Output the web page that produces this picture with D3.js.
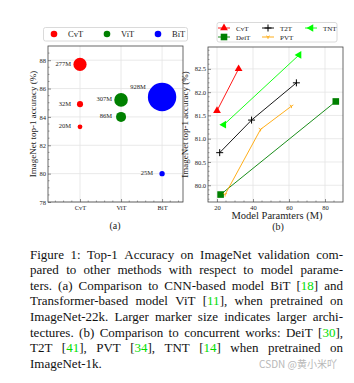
<!DOCTYPE html>
<html>
<head>
<meta charset="utf-8">
<script src="https://cdn.jsdelivr.net/npm/d3@7"></script>
<style>
  body { margin: 0; background: #fff; }
  svg { display: block; font-family: "Liberation Serif", "Times New Roman", serif; }
</style>
</head>
<body>
<svg class="fig"></svg>
<script>
const svgWidth = 354;
const svgHeight = 383;

// ---- data, panel (a) ----
var modelsA = ["CvT", "ViT", "BiT"];
var bubbleModel = ["CvT", "CvT", "CvT", "ViT", "ViT", "BiT", "BiT"];
var bubbleParams = [277, 32, 20, 307, 86, 928, 25];
var bubbleAcc = [87.7, 84.9, 83.3, 85.2, 84.0, 85.4, 80.0];
var yTicksA = [78, 80, 82, 84, 86, 88];

// ---- data, panel (b) ----
var seriesB = ["CvT", "DeiT", "T2T", "PVT", "TNT"];
var cvtParams = [20, 32],          cvtAcc = [81.6, 82.5];
var deitParams = [22, 86],         deitAcc = [79.8, 81.8];
var t2tParams = [21.5, 39.2, 64.1], t2tAcc = [80.7, 81.4, 82.2];
var pvtParams = [24.5, 44.2, 61.4], pvtAcc = [79.8, 81.2, 81.7];
var tntParams = [23.8, 65.6],      tntAcc = [81.3, 82.8];
var xTicksB = [20, 40, 60, 80];
var yTicksB = [80.0, 80.5, 81.0, 81.5, 82.0, 82.5];

// ---- caption ----
var captionLines = [
  "Figure 1: Top-1 Accuracy on ImageNet validation com-",
  "pared to other methods with respect to model parame-",
  "ters. (a) Comparison to CNN-based model BiT [18] and",
  "Transformer-based model ViT [11], when pretrained on",
  "ImageNet-22k. Larger marker size indicates larger archi-",
  "tectures. (b) Comparison to concurrent works: DeiT [30],",
  "T2T [41], PVT [34], TNT [14] when pretrained on",
  "ImageNet-1k."
];

const colA = { CvT: "#ff0000", ViT: "#008000", BiT: "#0000ff" };
const colB = { CvT: "#ff0000", DeiT: "#008000", T2T: "#000000", PVT: "#ffa500", TNT: "#00ff00" };
const gridColor = "#e3e3e3";
const frameColor = "#444";

const svg = d3.select('.fig')
  .attr("width", svgWidth)
  .attr("height", svgHeight);

// frame + grid helper
function drawFrame(g, x, y, xTicks, yTicks, xFmt, yFmt, xMinor, yMinor) {
  const [x0, x1] = x.range();
  const [y0, y1] = y.range();
  // grid
  g.selectAll(".gx").data(xTicks).join("line")
    .attr("x1", d => x(d)).attr("x2", d => x(d))
    .attr("y1", y0).attr("y2", y1)
    .attr("stroke", gridColor).attr("stroke-width", 0.8);
  g.selectAll(".gy").data(yTicks).join("line")
    .attr("class", "gy")
    .attr("y1", d => y(d)).attr("y2", d => y(d))
    .attr("x1", x0).attr("x2", x1)
    .attr("stroke", gridColor).attr("stroke-width", 0.8);
  // axes
  const ax = g.append("g").attr("transform", `translate(0,${y0})`)
    .call(d3.axisBottom(x).tickValues(xTicks).tickSize(-3).tickPadding(3).tickFormat(xFmt));
  const ay = g.append("g").attr("transform", `translate(${x0},0)`)
    .call(d3.axisLeft(y).tickValues(yTicks).tickSize(-3).tickPadding(2).tickFormat(yFmt));
  [ax, ay].forEach(a => {
    a.select(".domain").remove();
    a.selectAll("line").attr("stroke", frameColor).attr("stroke-width", 0.6);
    a.selectAll("text").attr("fill", "#222").style("font-family", "Liberation Serif").style("font-size", "6.5px");
  });
  // minor ticks
  g.selectAll(".mx").data(xMinor).join("line")
    .attr("x1", d => x(d)).attr("x2", d => x(d))
    .attr("y1", y0).attr("y2", y0 - 1.5)
    .attr("stroke", frameColor).attr("stroke-width", 0.5);
  g.selectAll(".my").data(yMinor).join("line")
    .attr("class", "my")
    .attr("y1", d => y(d)).attr("y2", d => y(d))
    .attr("x1", x0).attr("x2", x0 + 1.5)
    .attr("stroke", frameColor).attr("stroke-width", 0.5);
  g.append("rect")
    .attr("x", x0).attr("y", y1)
    .attr("width", x1 - x0).attr("height", y0 - y1)
    .attr("fill", "none").attr("stroke", frameColor).attr("stroke-width", 0.8);
}

// =============== panel (a) ===============
const xA = d3.scaleLinear().domain([-0.78, 2.51]).range([48, 183]);
const yA = d3.scaleLinear().domain([78, 89]).range([202, 46]);
const rA = d3.scaleSqrt().domain([20, 86, 307, 928]).range([2.4, 5, 6.8, 14.2]);

const gA = svg.append("g");
const idxA = d3.range(modelsA.length);
drawFrame(gA, xA, yA, idxA, yTicksA,
  i => modelsA[i], d3.format("d"),
  d3.range(-0.6, 2.5, 0.2).filter(v => Math.abs(v - Math.round(v)) > 0.01),
  d3.range(78.5, 89, 0.5).filter(v => v % 2 !== 0));

const bubbles = bubbleParams.map((p, i) => ({
  model: bubbleModel[i], params: p, acc: bubbleAcc[i]
}));
bubbles.sort((a, b) => b.params - a.params);

gA.selectAll(".bub").data(bubbles).join("circle")
  .attr("cx", d => xA(modelsA.indexOf(d.model)))
  .attr("cy", d => yA(d.acc))
  .attr("r", d => rA(d.params))
  .attr("fill", d => colA[d.model]);

// labels sit left of each bubble; the big one goes above-left
gA.selectAll(".blab").data(bubbles).join("text")
  .attr("x", d => {
    const cx = xA(modelsA.indexOf(d.model));
    const r = rA(d.params);
    return r > 10 ? cx - r - 2 : cx - 9;
  })
  .attr("y", d => {
    const r = rA(d.params);
    return yA(d.acc) + (r > 10 ? -r * 0.6 : 1.5);
  })
  .attr("text-anchor", "end")
  .attr("fill", "#222")
  .style("font-size", "6.5px")
  .text(d => d.params + "M");

gA.append("text")
  .attr("transform", `translate(36,${(46 + 202) / 2}) rotate(-90)`)
  .attr("text-anchor", "middle")
  .style("font-size", "9px")
  .attr("fill", "#222")
  .text("ImageNet top-1 accuracy (%)");

gA.append("text")
  .attr("x", 115).attr("y", 229)
  .attr("text-anchor", "middle")
  .style("font-size", "10px")
  .attr("fill", "#222")
  .text("(a)");

// legend (a)
const legA = gA.append("g");
legA.append("rect")
  .attr("x", 43.5).attr("y", 27.5).attr("width", 144).attr("height", 13.5)
  .attr("rx", 2).attr("fill", "#fff").attr("stroke", "#d0d0d0").attr("stroke-width", 0.8);
const legAx = [54, 107, 158];
modelsA.forEach((m, i) => {
  legA.append("circle").attr("cx", legAx[i]).attr("cy", 34).attr("r", 3.3).attr("fill", colA[m]);
  legA.append("text").attr("x", legAx[i] + 14).attr("y", 37)
    .style("font-size", "8.5px").attr("fill", "#222").text(m);
});

// =============== panel (b) ===============
const xB = d3.scaleLinear().domain([15, 90]).range([208, 343]);
const yB = d3.scaleLinear().domain([79.64, 82.97]).range([202, 47]);
const gB = svg.append("g");
drawFrame(gB, xB, yB, xTicksB, yTicksB, d3.format("d"), d3.format(".1f"),
  d3.range(20, 90, 5).filter(v => v % 20 !== 0),
  d3.range(79.7, 83.0, 0.1).filter(v => Math.abs(v * 2 - Math.round(v * 2)) > 0.01));

const dataB = {
  CvT: cvtParams.map((p, i) => [p, cvtAcc[i]]),
  DeiT: deitParams.map((p, i) => [p, deitAcc[i]]),
  T2T: t2tParams.map((p, i) => [p, t2tAcc[i]]),
  PVT: pvtParams.map((p, i) => [p, pvtAcc[i]]),
  TNT: tntParams.map((p, i) => [p, tntAcc[i]])
};

function marker(g, name, x, y) {
  const c = colB[name];
  if (name === "CvT") {
    g.append("path").attr("d", d3.symbol(d3.symbolTriangle, 26)())
      .attr("transform", `translate(${x},${y})`).attr("fill", c);
  } else if (name === "DeiT") {
    g.append("rect").attr("x", x - 3.3).attr("y", y - 3.3).attr("width", 6.6).attr("height", 6.6).attr("fill", c);
  } else if (name === "T2T") {
    g.append("path").attr("d", `M${x - 3.5},${y}H${x + 3.5}M${x},${y - 3.5}V${y + 3.5}`)
      .attr("stroke", c).attr("stroke-width", 1);
  } else if (name === "PVT") {
    g.append("path").attr("d", `M${x},${y}V${y + 2}M${x},${y}L${x - 1.8},${y - 1.2}M${x},${y}L${x + 1.8},${y - 1.2}`)
      .attr("stroke", c).attr("stroke-width", 0.8);
  } else if (name === "TNT") {
    g.append("path").attr("d", d3.symbol(d3.symbolTriangle, 26)())
      .attr("transform", `translate(${x},${y}) rotate(-90)`).attr("fill", c);
  }
}

const line = d3.line().x(d => xB(d[0])).y(d => yB(d[1]));
seriesB.forEach(s => {
  gB.append("path").datum(dataB[s])
    .attr("d", line).attr("fill", "none")
    .attr("stroke", colB[s]).attr("stroke-width", 0.9);
  dataB[s].forEach(d => marker(gB, s, xB(d[0]), yB(d[1])));
});

gB.append("text")
  .attr("transform", `translate(188,${(47 + 202) / 2}) rotate(-90)`)
  .attr("text-anchor", "middle")
  .style("font-size", "9px")
  .attr("fill", "#222")
  .text("ImageNet top-1 accuracy (%)");

gB.append("text")
  .attr("x", 277).attr("y", 219)
  .attr("text-anchor", "middle")
  .style("font-size", "10.5px")
  .attr("fill", "#222")
  .text("Model Paramters (M)");

gB.append("text")
  .attr("x", 278).attr("y", 230)
  .attr("text-anchor", "middle")
  .style("font-size", "10px")
  .attr("fill", "#222")
  .text("(b)");

// legend (b)
const legB = gB.append("g");
legB.append("rect")
  .attr("x", 217).attr("y", 22.5).attr("width", 120).attr("height", 19.5)
  .attr("rx", 2).attr("fill", "#fff").attr("stroke", "#d0d0d0").attr("stroke-width", 0.8);
const legPos = { CvT: [218, 28], DeiT: [218, 37], T2T: [262, 28], PVT: [262, 37], TNT: [305, 28] };
seriesB.forEach(s => {
  const [lx, ly] = legPos[s];
  legB.append("line").attr("x1", lx).attr("x2", lx + 12).attr("y1", ly).attr("y2", ly)
    .attr("stroke", colB[s]).attr("stroke-width", 0.9);
  marker(legB, s, lx + 6, ly);
  legB.append("text").attr("x", lx + 18).attr("y", ly + 2.5)
    .style("font-size", "7px").attr("fill", "#222").text(s);
});

// =============== caption ===============
const capLeft = 30, capRight = 343, capTop = 258.5, capStep = 15.6;
const cap = svg.append("g").style("font-size", "13px").attr("fill", "#111");

function addWord(t, word) {
  // split citation numbers so they can be coloured
  const parts = word.split(/(\[\d+\])/).filter(p => p.length);
  parts.forEach(p => {
    const m = p.match(/^\[(\d+)\]$/);
    if (m) {
      t.append("tspan").text("[");
      t.append("tspan").attr("fill", "#00dd00").text(m[1]);
      t.append("tspan").text("]");
    } else {
      t.append("tspan").text(p);
    }
  });
}

captionLines.forEach((ln, li) => {
  const y = capTop + li * capStep;
  const words = ln.split(" ");
  const nodes = words.map(w => {
    const t = cap.append("text").attr("y", y);
    addWord(t, w);
    return t;
  });
  const widths = nodes.map(t => t.node().getComputedTextLength());
  const total = d3.sum(widths);
  const justify = li < captionLines.length - 1;
  const spaceW = 3.25;
  const gap = justify ? (capRight - capLeft - total) / (words.length - 1) : spaceW;
  let x = capLeft;
  nodes.forEach((t, i) => {
    t.attr("x", x);
    x += widths[i] + gap;
  });
});

svg.append("text")
  .attr("x", 337).attr("y", 368)
  .attr("text-anchor", "end")
  .style("font-family", "'Noto Sans CJK SC', 'Noto Sans', sans-serif")
  .style("font-size", "10px")
  .attr("fill", "#b8b8b8")
  .text("CSDN @黄小米吖");
</script>
</body>
</html>
